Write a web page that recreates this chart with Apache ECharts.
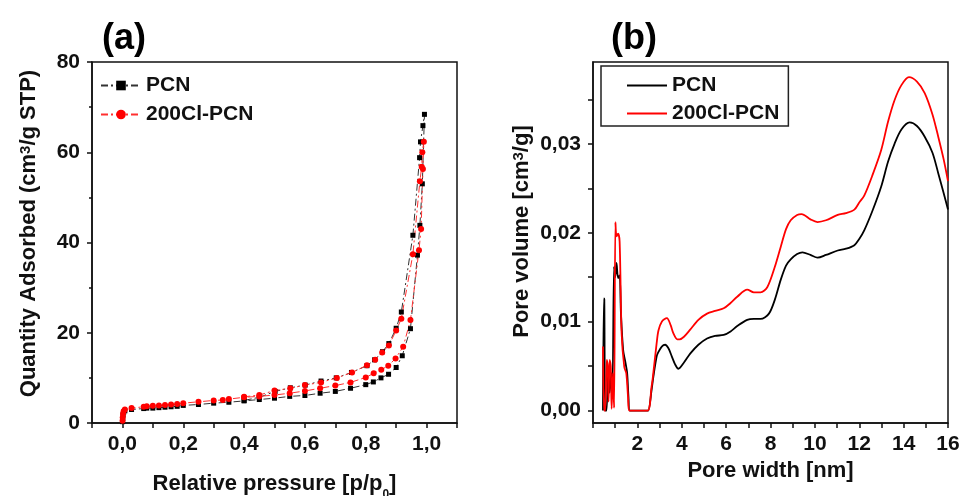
<!DOCTYPE html>
<html>
<head>
<meta charset="utf-8">
<script src="https://cdn.jsdelivr.net/npm/echarts@6/dist/echarts.min.js"></script>
<style>
  html, body { margin: 0; padding: 0; background: #fff; }
  #chart { width: 960px; height: 496px; }
</style>
</head>
<body>
<div id="chart"></div>
<script>
// ---- (a) N2 adsorption–desorption isotherms ----
// PCN, adsorption branch
const pcnAdsP = [0.0005, 0.001, 0.002, 0.004, 0.008, 0.03, 0.07, 0.08, 0.1, 0.12, 0.14, 0.16, 0.18, 0.2, 0.25, 0.3, 0.35, 0.4, 0.45, 0.5, 0.55, 0.6, 0.65, 0.7, 0.75, 0.8, 0.825, 0.85, 0.875, 0.9, 0.92, 0.947, 0.97, 0.978, 0.986, 0.993];
const pcnAdsQ = [0.3, 1.0, 1.8, 2.3, 2.7, 3.0, 3.2, 3.3, 3.3, 3.4, 3.5, 3.6, 3.7, 3.9, 4.1, 4.4, 4.6, 4.9, 5.2, 5.5, 5.9, 6.1, 6.6, 7.0, 7.7, 8.5, 9.1, 10.0, 10.8, 12.3, 14.9, 20.9, 37.2, 43.8, 53.0, 68.4];
// PCN, desorption branch
const pcnDesP = [0.988, 0.98, 0.977, 0.955, 0.917, 0.9, 0.876, 0.855, 0.829, 0.804, 0.753, 0.703, 0.653, 0.601, 0.552, 0.502, 0.45, 0.4];
const pcnDesQ = [65.9, 62.3, 58.8, 41.6, 24.6, 21.0, 17.6, 15.8, 14.0, 12.7, 11.2, 10.0, 9.3, 8.4, 7.8, 7.0, 5.7, 5.0];
// 200Cl-PCN, adsorption branch
const clAdsP = [0.0005, 0.001, 0.002, 0.004, 0.008, 0.03, 0.07, 0.08, 0.1, 0.12, 0.14, 0.16, 0.18, 0.2, 0.25, 0.3, 0.33, 0.35, 0.4, 0.45, 0.5, 0.55, 0.6, 0.65, 0.7, 0.75, 0.8, 0.826, 0.851, 0.874, 0.898, 0.923, 0.947, 0.975, 0.982, 0.988, 0.991];
const clAdsQ = [0.5, 1.2, 2.0, 2.6, 3.0, 3.3, 3.6, 3.7, 3.8, 3.9, 4.0, 4.1, 4.2, 4.4, 4.7, 5.0, 5.1, 5.3, 5.7, 5.9, 6.2, 6.6, 7.1, 7.7, 8.3, 9.0, 10.1, 11.0, 11.8, 12.7, 14.3, 16.9, 22.8, 38.3, 43.0, 56.3, 62.3];
// 200Cl-PCN, desorption branch
const clDesP = [0.986, 0.984, 0.978, 0.955, 0.917, 0.9, 0.876, 0.854, 0.831, 0.804, 0.755, 0.705, 0.653, 0.6, 0.552, 0.5, 0.45, 0.4];
const clDesQ = [60.0, 56.8, 53.6, 37.4, 23.1, 20.5, 17.2, 15.6, 14.0, 12.8, 11.2, 10.0, 9.0, 8.4, 7.7, 7.2, 6.2, 5.8];

// ---- (b) pore size distribution ----
const pcnWidth = [0.45, 0.49, 0.51, 0.55, 0.61, 0.68, 0.75, 0.83, 0.88, 0.95, 1.0, 1.06, 1.13, 1.2, 1.26, 1.36, 1.47, 1.54, 1.6, 1.66, 2.0, 2.42, 2.49, 2.64, 2.72, 2.87, 2.95, 3.1, 3.25, 3.4, 3.55, 3.7, 3.85, 4.1, 4.38, 4.75, 5.14, 5.5, 5.89, 6.2, 6.5, 6.95, 7.25, 7.55, 7.93, 8.2, 8.46, 8.7, 8.91, 9.2, 9.44, 9.8, 10.12, 10.5, 11.03, 11.4, 11.78, 12.0, 12.23, 12.6, 12.99, 13.3, 13.59, 13.9, 14.27, 14.6, 14.95, 15.3, 15.56, 15.8, 16.0];
const pcnVolume = [0.0, 0.0126, 0.0125, 0.0, 0.0, 0.0049, 0.0020, 0.0042, 0.0030, 0.0162, 0.0150, 0.0166, 0.0149, 0.0152, 0.0109, 0.0068, 0.0053, 0.0042, 0.0015, 0.0, 0.0, 0.0, 0.0, 0.0023, 0.0038, 0.0061, 0.0066, 0.0072, 0.0074, 0.0070, 0.0061, 0.0052, 0.0047, 0.0054, 0.0064, 0.0074, 0.0081, 0.0084, 0.0085, 0.0089, 0.0095, 0.0102, 0.0103, 0.0103, 0.0109, 0.0125, 0.0147, 0.0163, 0.0170, 0.0176, 0.0178, 0.0175, 0.0172, 0.0175, 0.0180, 0.0182, 0.0186, 0.0193, 0.0203, 0.0225, 0.0252, 0.0280, 0.0300, 0.0316, 0.0324, 0.0320, 0.0308, 0.0290, 0.0267, 0.0245, 0.0226];
const clWidth = [0.45, 0.5, 0.55, 0.62, 0.66, 0.7, 0.75, 0.8, 0.84, 0.9, 0.95, 1.01, 1.06, 1.13, 1.2, 1.29, 1.41, 1.5, 1.58, 1.63, 2.0, 2.46, 2.64, 2.69, 2.87, 2.95, 3.1, 3.33, 3.5, 3.62, 3.8, 3.9, 4.1, 4.38, 4.75, 5.14, 5.5, 5.89, 6.2, 6.5, 6.95, 7.25, 7.55, 7.86, 8.2, 8.46, 8.7, 8.91, 9.2, 9.4, 9.8, 10.12, 10.5, 11.03, 11.4, 11.78, 12.0, 12.23, 12.6, 12.99, 13.3, 13.59, 13.9, 14.24, 14.6, 14.95, 15.3, 15.56, 15.8, 16.0];
const clVolume = [0.0072, 0.0, 0.0, 0.0057, 0.0052, 0.0010, 0.0057, 0.0050, 0.0002, 0.0042, 0.0003, 0.0212, 0.0196, 0.0199, 0.0190, 0.0087, 0.0049, 0.0042, 0.0015, 0.0, 0.0, 0.0, 0.0027, 0.0036, 0.0076, 0.0090, 0.0100, 0.0104, 0.0096, 0.0087, 0.0080, 0.0080, 0.0083, 0.0091, 0.0102, 0.0109, 0.0112, 0.0115, 0.0121, 0.0128, 0.0136, 0.0133, 0.0133, 0.0139, 0.0162, 0.0184, 0.0204, 0.0214, 0.0220, 0.0221, 0.0215, 0.0212, 0.0214, 0.0220, 0.0222, 0.0226, 0.0234, 0.0242, 0.0265, 0.0293, 0.0325, 0.0349, 0.0366, 0.0375, 0.0370, 0.0357, 0.0333, 0.0308, 0.0283, 0.0258];

// tick labels
const xLabelsA = [0, 0.2, 0.4, 0.6, 0.8, 1.0];
const yLabelsA = [0, 20, 40, 60, 80];
const xLabelsB = [2, 4, 6, 8, 10, 12, 14, 16];
const yLabelsB = [0, 0.01, 0.02, 0.03];
const yTicksB = [0, 0.005, 0.01, 0.015, 0.02, 0.025, 0.03, 0.035];

const FONT = '"Liberation Sans", Arial, sans-serif';
const INK = '#111';

const zip = (xs, ys) => xs.map((x, i) => [x, ys[i]]);
const comma = d => v => v.toFixed(d).replace('.', ',');

const axisBase = {
  axisLine: { show: true, onZero: false, lineStyle: { color: INK, width: 1.5 } },
  axisTick: { show: true, inside: false, length: 5, lineStyle: { color: INK, width: 1.5 } },
  splitLine: { show: false },
  nameLocation: 'middle'
};
const labelStyle = { color: INK, fontFamily: FONT, fontWeight: 'bold', fontSize: 21 };
const nameRich = {
  t: { fontFamily: FONT, fontWeight: 'bold', fontSize: 22, color: INK },
  s: { fontFamily: FONT, fontWeight: 'bold', fontSize: 15, color: INK, verticalAlign: 'top' },
  d: { fontFamily: FONT, fontWeight: 'bold', fontSize: 12, color: INK, verticalAlign: 'bottom', lineHeight: 34 }
};

const chart = echarts.init(document.getElementById('chart'), null, { renderer: 'canvas' });

chart.setOption({
  animation: false,
  backgroundColor: '#fff',
  title: [
    { text: '(a)', left: 97, top: 16, textStyle: { fontFamily: FONT, fontWeight: 'bold', fontSize: 36, color: '#000' } },
    { text: '(b)', left: 606, top: 16, textStyle: { fontFamily: FONT, fontWeight: 'bold', fontSize: 36, color: '#000' } }
  ],
  grid: [
    { left: 92, top: 62, width: 365, height: 361, show: true, borderColor: INK, borderWidth: 1.5, outerBoundsMode: 'none', containLabel: false },
    { left: 593, top: 62, width: 355, height: 361, show: true, borderColor: INK, borderWidth: 1.5, outerBoundsMode: 'none', containLabel: false }
  ],
  legend: [
    {
      orient: 'vertical', left: 100, top: 75, padding: 0, itemGap: 8,
      itemWidth: 40, itemHeight: 12,
      data: ['PCN', '200Cl-PCN'].map(n => ({ name: n })),
      textStyle: { fontFamily: FONT, fontWeight: 'bold', fontSize: 21, color: INK }
    },
    {
      orient: 'vertical', left: 601, top: 66, padding: [9, 9, 2, 26], itemGap: 7,
      itemWidth: 40, itemHeight: 2, icon: 'rect',
      borderColor: '#222', borderWidth: 1.5, backgroundColor: '#fff',
      data: [{ name: 'PCN ' }, { name: '200Cl-PCN ' }],
      formatter: n => n.trim(),
      textStyle: { fontFamily: FONT, fontWeight: 'bold', fontSize: 21, color: INK }
    }
  ],
  xAxis: [
    Object.assign({}, axisBase, {
      type: 'value', gridIndex: 0, min: -0.1, max: 1.1, interval: 0.1,
      axisLabel: Object.assign({}, labelStyle, { margin: 11, customValues: xLabelsA, formatter: comma(1) }),
      name: '{t|Relative pressure [p/p}{d|0}{t|]}',
      nameGap: 44,
      nameTextStyle: { rich: nameRich }
    }),
    Object.assign({}, axisBase, {
      type: 'value', gridIndex: 1, min: 0, max: 16, interval: 1,
      axisLabel: Object.assign({}, labelStyle, { margin: 11, customValues: xLabelsB, formatter: v => String(v) }),
      name: '{t|Pore width [nm]}',
      nameGap: 36,
      nameTextStyle: { rich: nameRich }
    })
  ],
  yAxis: [
    Object.assign({}, axisBase, {
      type: 'value', gridIndex: 0, min: 0, max: 80, interval: 20,
      minorTick: { show: true, splitNumber: 2, length: 3, lineStyle: { color: INK, width: 1.5 } },
      axisLabel: Object.assign({}, labelStyle, { margin: 12, customValues: yLabelsA, formatter: v => String(v) }),
      name: '{t|Quantity Adsorbed (cm}{s|3}{t|/g STP)}',
      nameGap: 52,
      nameTextStyle: { rich: nameRich, padding: [0, 0, 0, 18] }
    }),
    Object.assign({}, axisBase, {
      type: 'value', gridIndex: 1, min: -0.0014, max: 0.0392,
      axisTick: Object.assign({}, axisBase.axisTick, { customValues: yTicksB }),
      axisLabel: Object.assign({}, labelStyle, { margin: 12, customValues: yLabelsB, formatter: comma(2) }),
      name: '{t|Pore volume [cm}{s|3}{t|/g]}',
      nameGap: 60,
      nameTextStyle: { rich: nameRich, padding: [0, 0, 0, 22] }
    })
  ],
  series: [
    {
      name: 'PCN', type: 'line', xAxisIndex: 0, yAxisIndex: 0,
      data: zip(pcnAdsP, pcnAdsQ).concat(zip(pcnDesP, pcnDesQ)),
      symbol: 'rect', symbolSize: 5, showAllSymbol: true,
      itemStyle: { color: '#000' },
      lineStyle: { color: '#333', width: 1, type: [7, 3, 2, 3] }
    },
    {
      name: '200Cl-PCN', type: 'line', xAxisIndex: 0, yAxisIndex: 0,
      data: zip(clAdsP, clAdsQ).concat(zip(clDesP, clDesQ)),
      symbol: 'circle', symbolSize: 6, showAllSymbol: true,
      itemStyle: { color: '#ff0000' },
      lineStyle: { color: '#ff3030', width: 1, type: [7, 3, 2, 3] }
    },
    {
      name: 'PCN ', type: 'line', xAxisIndex: 1, yAxisIndex: 1,
      data: zip(pcnWidth, pcnVolume), symbol: 'none', smooth: 0.3,
      itemStyle: { color: '#000' },
      lineStyle: { color: '#000', width: 1.8 }
    },
    {
      name: '200Cl-PCN ', type: 'line', xAxisIndex: 1, yAxisIndex: 1,
      data: zip(clWidth, clVolume), symbol: 'none', smooth: 0.3,
      itemStyle: { color: '#ff0000' },
      lineStyle: { color: '#ff0000', width: 1.8 }
    }
  ]
});
</script>
</body>
</html>
